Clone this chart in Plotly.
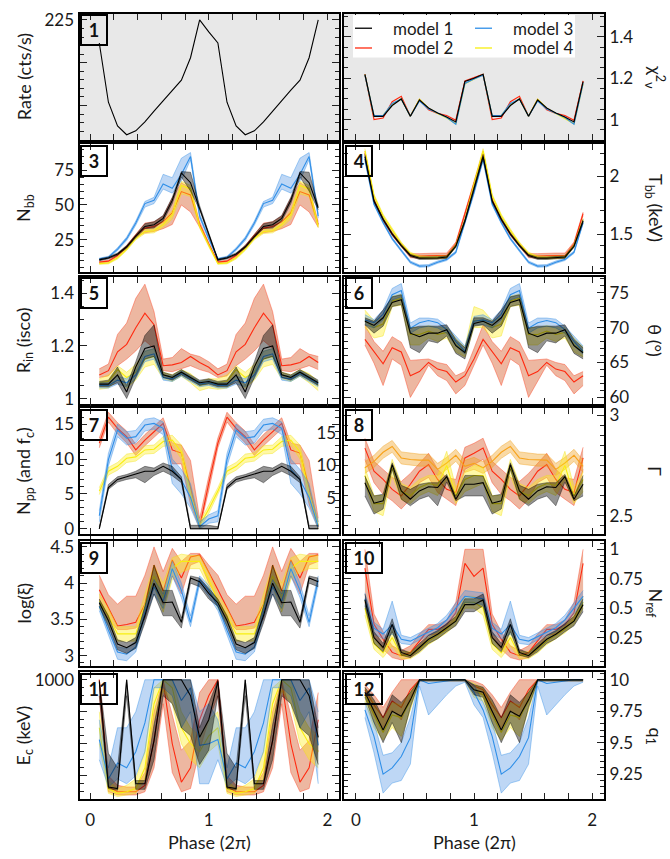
import numpy as np
import plotly.graph_objects as go

# ---------------------------------------------------------------------------
# Phase-resolved fit results: 13 phase bins per cycle, drawn over two cycles
# ---------------------------------------------------------------------------
N_BINS = 13
phase = np.arange(1, 2 * N_BINS) / N_BINS

# 1: count rate
rate_m1 = [211.5, 176.9, 163.1, 157.9, 160.2, 165.4, 171.7, 177.9, 184.0, 189.8, 202.9, 225.0, 218.0]

# 2: reduced chi^2
chi2_m1 = [1.219, 1.016, 1.016, 1.068, 1.100, 1.016, 1.095, 1.056, 1.032, 1.013, 0.989, 1.184, 1.200]
chi2_m2 = [1.219, 1.000, 1.008, 1.087, 1.113, 1.016, 1.097, 1.048, 1.030, 1.020, 0.997, 1.187, 1.203]
chi2_m3 = [1.215, 1.020, 1.020, 1.078, 1.100, 1.016, 1.090, 1.051, 1.032, 1.010, 0.978, 1.175, 1.197]
chi2_m4 = [1.217, 1.018, 1.020, 1.075, 1.100, 1.016, 1.098, 1.055, 1.030, 1.008, 0.980, 1.173, 1.195]

# 3: blackbody normalisation
nbb_m1 = [10.6, 12.0, 14.8, 20.0, 27.6, 34.6, 35.8, 40.4, 53.3, 73.0, 66.0, 48.0, 29.0]
nbb_m1_lo = [10.0, 11.3, 14.0, 19.0, 26.5, 33.0, 33.5, 38.5, 51.0, 70.0, 60.0, 46.5, 28.0]
nbb_m1_hi = [11.2, 12.7, 15.6, 21.0, 28.7, 36.5, 38.0, 42.5, 55.5, 74.0, 73.5, 49.5, 30.0]
nbb_m2 = [9.0, 9.7, 13.7, 20.0, 28.0, 33.4, 34.6, 38.0, 44.4, 59.6, 57.2, 36.0, 22.0]
nbb_m2_lo = [8.5, 9.0, 12.8, 19.0, 27.0, 30.0, 31.0, 33.0, 36.0, 50.0, 45.0, 34.0, 21.0]
nbb_m2_hi = [9.5, 10.4, 14.6, 21.0, 29.0, 37.0, 38.0, 42.0, 55.0, 66.0, 62.0, 38.0, 23.0]
nbb_m3 = [11.3, 12.5, 18.3, 25.8, 37.0, 51.0, 53.3, 65.0, 62.0, 72.0, 84.8, 42.0, 26.0]
nbb_m3_lo = [10.8, 11.8, 17.3, 24.5, 35.5, 48.5, 51.0, 61.4, 58.5, 67.3, 82.5, 40.5, 25.0]
nbb_m3_hi = [11.8, 13.2, 19.3, 27.0, 38.5, 52.5, 55.5, 72.0, 69.6, 83.6, 87.6, 43.5, 27.0]
nbb_m4 = [7.9, 8.3, 12.0, 18.3, 26.0, 31.0, 31.5, 36.0, 43.0, 64.0, 61.5, 34.6, 21.0]
nbb_m4_lo = [7.4, 7.7, 11.2, 17.3, 25.0, 29.5, 30.0, 34.0, 40.0, 58.0, 56.0, 33.5, 20.0]
nbb_m4_hi = [8.4, 8.9, 12.8, 19.3, 27.0, 32.5, 33.0, 38.0, 46.0, 67.0, 64.0, 35.7, 22.0]

# 4: blackbody temperature (keV)
tbb_m1 = [2.17, 1.786, 1.628, 1.50, 1.40, 1.314, 1.29, 1.29, 1.292, 1.30, 1.394, 1.614, 1.885]
tbb_m1_lo = [2.15, 1.775, 1.617, 1.49, 1.39, 1.304, 1.28, 1.28, 1.282, 1.29, 1.384, 1.60, 1.87]
tbb_m1_hi = [2.19, 1.797, 1.639, 1.51, 1.41, 1.324, 1.30, 1.30, 1.302, 1.31, 1.404, 1.628, 1.90]
tbb_m2 = [2.20, 1.795, 1.623, 1.50, 1.405, 1.314, 1.31, 1.314, 1.314, 1.314, 1.415, 1.677, 1.93]
tbb_m2_lo = [2.18, 1.78, 1.61, 1.485, 1.39, 1.295, 1.29, 1.29, 1.29, 1.29, 1.40, 1.66, 1.91]
tbb_m2_hi = [2.22, 1.81, 1.636, 1.515, 1.42, 1.33, 1.33, 1.335, 1.335, 1.335, 1.43, 1.69, 1.95]
tbb_m3 = [2.15, 1.76, 1.60, 1.46, 1.357, 1.256, 1.222, 1.225, 1.256, 1.28, 1.342, 1.60, 1.86]
tbb_m3_lo = [2.13, 1.75, 1.59, 1.45, 1.347, 1.246, 1.212, 1.215, 1.246, 1.27, 1.332, 1.59, 1.845]
tbb_m3_hi = [2.17, 1.77, 1.61, 1.47, 1.367, 1.266, 1.232, 1.235, 1.266, 1.29, 1.352, 1.61, 1.875]
tbb_m4 = [2.22, 1.83, 1.656, 1.53, 1.415, 1.33, 1.30, 1.295, 1.295, 1.30, 1.40, 1.62, 1.93]
tbb_m4_lo = [2.20, 1.815, 1.64, 1.515, 1.40, 1.318, 1.288, 1.283, 1.283, 1.288, 1.388, 1.605, 1.91]
tbb_m4_hi = [2.24, 1.845, 1.672, 1.545, 1.43, 1.342, 1.312, 1.307, 1.307, 1.312, 1.412, 1.635, 1.95]

# 5: inner disc radius (isco)
rin_m1 = [1.055, 1.055, 1.09, 1.025, 1.12, 1.19, 1.20, 1.09, 1.08, 1.10, 1.08, 1.06, 1.065]
rin_m1_lo = [1.045, 1.045, 1.06, 1.00, 1.08, 1.15, 1.16, 1.08, 1.07, 1.09, 1.07, 1.05, 1.055]
rin_m1_hi = [1.065, 1.07, 1.12, 1.05, 1.14, 1.24, 1.28, 1.10, 1.09, 1.11, 1.09, 1.07, 1.075]
rin_m2 = [1.09, 1.106, 1.178, 1.206, 1.269, 1.325, 1.281, 1.125, 1.128, 1.137, 1.16, 1.137, 1.119]
rin_m2_lo = [1.08, 1.086, 1.125, 1.15, 1.181, 1.22, 1.19, 1.106, 1.102, 1.113, 1.125, 1.11, 1.10]
rin_m2_hi = [1.113, 1.131, 1.244, 1.287, 1.381, 1.435, 1.331, 1.15, 1.156, 1.19, 1.169, 1.16, 1.14]
rin_m3 = [1.05, 1.05, 1.07, 1.06, 1.09, 1.16, 1.17, 1.08, 1.075, 1.095, 1.075, 1.055, 1.06]
rin_m3_lo = [1.04, 1.04, 1.055, 1.045, 1.075, 1.14, 1.15, 1.07, 1.065, 1.085, 1.065, 1.045, 1.05]
rin_m3_hi = [1.06, 1.06, 1.085, 1.075, 1.105, 1.18, 1.19, 1.09, 1.085, 1.105, 1.085, 1.065, 1.07]
rin_m4 = [1.06, 1.065, 1.11, 1.08, 1.10, 1.15, 1.16, 1.09, 1.08, 1.10, 1.08, 1.05, 1.06]
rin_m4_lo = [1.035, 1.04, 1.07, 1.04, 1.07, 1.12, 1.13, 1.075, 1.065, 1.085, 1.06, 1.03, 1.04]
rin_m4_hi = [1.075, 1.09, 1.125, 1.10, 1.13, 1.18, 1.19, 1.10, 1.09, 1.11, 1.095, 1.065, 1.075]

# 6: inclination (deg)
theta_m1 = [70.9, 70.3, 71.4, 73.6, 74.0, 69.2, 68.7, 69.2, 69.2, 69.7, 67.4, 66.4, 70.6]
theta_m1_lo = [70.4, 69.2, 70.2, 73.0, 73.3, 67.1, 66.4, 68.1, 67.8, 68.8, 66.3, 65.5, 70.2]
theta_m1_hi = [71.4, 70.9, 72.5, 74.4, 74.7, 69.9, 70.2, 70.2, 70.2, 70.4, 68.3, 67.1, 71.4]
theta_m2 = [68.3, 66.6, 64.8, 67.1, 66.5, 63.1, 63.7, 65.0, 64.05, 63.7, 62.2, 63.1, 65.5]
theta_m2_lo = [67.5, 64.9, 61.7, 65.5, 64.6, 60.0, 62.2, 64.6, 63.1, 62.4, 60.5, 61.7, 64.6]
theta_m2_hi = [70.4, 68.0, 66.6, 68.7, 67.9, 65.3, 65.4, 65.5, 65.0, 64.7, 63.1, 63.7, 67.0]
theta_m3 = [71.1, 70.7, 71.9, 74.7, 75.3, 69.9, 70.7, 71.0, 70.7, 69.7, 68.0, 66.6, 70.9]
theta_m3_lo = [70.4, 69.95, 71.13, 73.96, 74.4, 69.2, 69.95, 70.2, 69.95, 69.2, 67.35, 66.2, 70.4]
theta_m3_hi = [71.84, 71.13, 72.55, 75.6, 76.3, 70.65, 71.36, 71.36, 71.2, 70.2, 68.8, 67.35, 71.6]
theta_m4 = [71.0, 70.0, 70.5, 73.8, 74.2, 69.0, 69.0, 69.5, 69.0, 69.3, 67.6, 66.5, 71.0]
theta_m4_lo = [70.0, 68.5, 68.8, 73.0, 73.2, 67.5, 67.5, 68.5, 68.0, 68.5, 66.5, 65.8, 70.0]
theta_m4_hi = [72.5, 71.0, 71.5, 74.5, 74.8, 70.0, 70.0, 70.3, 70.0, 70.0, 68.5, 67.2, 73.0]

# 7: power-law normalisation (and covering fraction)
npp_m1 = [0.0, 5.9, 7.07, 7.45, 7.8, 8.25, 8.25, 8.95, 8.25, 7.07, 0.0, 0.0, 0.0]
npp_m1_lo = [0.0, 5.65, 6.69, 7.07, 7.31, 6.6, 7.64, 8.25, 7.6, 6.6, 0.0, 0.0, 0.0]
npp_m1_hi = [0.3, 6.36, 7.45, 7.78, 8.25, 8.95, 8.7, 9.43, 8.95, 7.45, 0.5, 0.5, 0.5]
npp_m2 = [12.27, 16.0, 14.4, 13.2, 11.3, 12.7, 13.9, 15.1, 11.3, 10.85, 5.9, 0.3, 6.5]
npp_m2_lo = [11.6, 15.3, 13.6, 12.3, 10.5, 11.9, 13.1, 14.3, 9.3, 9.3, 3.5, 0.0, 5.5]
npp_m2_hi = [13.0, 16.7, 15.2, 14.0, 12.1, 13.5, 14.7, 15.9, 12.3, 12.0, 9.8, 1.5, 7.5]
npp_m3 = [1.87, 9.9, 14.15, 12.97, 13.2, 14.86, 15.1, 14.4, 8.5, 7.0, 4.5, 0.3, 1.4]
npp_m3_lo = [1.0, 9.0, 13.2, 12.0, 12.3, 14.0, 14.3, 13.5, 6.5, 5.0, 3.0, 0.0, 0.8]
npp_m3_hi = [2.6, 10.8, 15.0, 13.9, 14.1, 15.7, 15.9, 15.3, 10.0, 8.5, 6.5, 1.0, 2.0]
npp_m4 = [5.4, 8.25, 8.95, 10.1, 10.3, 11.3, 11.4, 12.5, 12.7, 11.0, 5.0, 0.5, 2.8]
npp_m4_lo = [4.9, 7.7, 8.4, 9.5, 9.7, 10.7, 10.8, 11.8, 12.0, 10.0, 4.0, 0.0, 2.2]
npp_m4_hi = [5.9, 8.8, 9.5, 10.7, 10.9, 11.9, 12.0, 13.2, 13.4, 12.0, 6.0, 1.0, 3.4]

# 8: photon index
gamma_m1 = [2.664, 2.562, 2.574, 2.754, 2.623, 2.582, 2.623, 2.644, 2.64, 2.694, 2.582, 2.656, 2.656]
gamma_m1_lo = [2.598, 2.508, 2.533, 2.73, 2.582, 2.549, 2.582, 2.598, 2.549, 2.667, 2.574, 2.598, 2.598]
gamma_m1_hi = [2.697, 2.598, 2.607, 2.763, 2.651, 2.631, 2.656, 2.664, 2.664, 2.705, 2.598, 2.70, 2.70]
gamma_m2 = [2.836, 2.721, 2.68, 2.631, 2.598, 2.656, 2.721, 2.754, 2.68, 2.631, 2.615, 2.787, 2.81]
gamma_m2_lo = [2.779, 2.664, 2.606, 2.574, 2.533, 2.582, 2.664, 2.69, 2.615, 2.582, 2.55, 2.73, 2.754]
gamma_m2_hi = [2.885, 2.77, 2.73, 2.69, 2.67, 2.71, 2.76, 2.81, 2.73, 2.69, 2.68, 2.84, 2.86]
gamma_m4 = [2.70, 2.56, 2.56, 2.74, 2.62, 2.60, 2.64, 2.66, 2.65, 2.75, 2.60, 2.68, 2.70]
gamma_m4_lo = [2.66, 2.52, 2.50, 2.70, 2.58, 2.56, 2.60, 2.62, 2.60, 2.68, 2.56, 2.62, 2.64]
gamma_m4_hi = [2.74, 2.60, 2.60, 2.78, 2.66, 2.64, 2.68, 2.70, 2.70, 2.82, 2.64, 2.72, 2.75]
gamma2_m4 = [2.738, 2.77, 2.815, 2.844, 2.787, 2.779, 2.776, 2.776, 2.73, 2.762, 2.80, 2.745, 2.76]
gamma2_m4_lo = [2.71, 2.74, 2.785, 2.815, 2.757, 2.75, 2.746, 2.746, 2.70, 2.73, 2.77, 2.715, 2.73]
gamma2_m4_hi = [2.768, 2.80, 2.845, 2.874, 2.817, 2.81, 2.806, 2.806, 2.76, 2.79, 2.83, 2.775, 2.79]

# 9: ionisation parameter
logxi_m1 = [3.73, 3.48, 3.16, 3.11, 3.18, 3.55, 4.00, 3.73, 3.74, 3.46, 4.07, 4.02, 3.86]
logxi_m1_lo = [3.68, 3.40, 3.08, 3.03, 3.10, 3.45, 3.85, 3.55, 3.55, 3.38, 4.00, 3.95, 3.78]
logxi_m1_hi = [3.78, 3.55, 3.22, 3.18, 3.25, 3.68, 4.25, 3.90, 3.90, 3.52, 4.10, 4.07, 3.93]
logxi_m2 = [3.91, 3.66, 3.41, 3.43, 3.46, 3.71, 4.25, 3.89, 4.32, 4.07, 4.36, 4.39, 4.16]
logxi_m2_lo = [3.78, 3.50, 3.36, 3.36, 3.38, 3.50, 3.95, 3.70, 4.10, 3.85, 4.25, 4.30, 4.00]
logxi_m2_hi = [4.11, 3.84, 3.71, 3.82, 3.82, 4.11, 4.50, 4.16, 4.48, 4.30, 4.41, 4.41, 4.25]
logxi_m3 = [3.68, 3.35, 3.05, 3.02, 3.12, 3.60, 3.95, 3.75, 4.20, 3.90, 3.46, 4.05, 3.90]
logxi_m3_lo = [3.62, 3.28, 2.95, 2.93, 3.05, 3.52, 3.85, 3.65, 4.10, 3.80, 3.40, 3.98, 3.82]
logxi_m3_hi = [3.74, 3.42, 3.12, 3.10, 3.20, 3.68, 4.05, 3.85, 4.30, 4.00, 3.55, 4.10, 3.97]
logxi_m4 = [3.75, 3.55, 3.30, 3.30, 3.30, 3.70, 4.10, 3.80, 4.20, 4.30, 4.30, 4.30, 4.05]
logxi_m4_lo = [3.65, 3.45, 3.20, 3.20, 3.20, 3.55, 3.95, 3.60, 4.05, 4.15, 4.20, 4.20, 3.95]
logxi_m4_hi = [3.85, 3.65, 3.40, 3.40, 3.40, 3.85, 4.25, 4.00, 4.35, 4.40, 4.38, 4.38, 4.15]

# 10: reflection normalisation
nref_m1 = [0.57, 0.25, 0.166, 0.362, 0.124, 0.096, 0.166, 0.236, 0.278, 0.334, 0.39, 0.53, 0.53]
nref_m1_lo = [0.52, 0.20, 0.13, 0.30, 0.10, 0.08, 0.13, 0.20, 0.24, 0.30, 0.35, 0.47, 0.47]
nref_m1_hi = [0.62, 0.30, 0.20, 0.41, 0.15, 0.12, 0.20, 0.27, 0.31, 0.37, 0.43, 0.58, 0.58]
nref_m2 = [0.84, 0.362, 0.236, 0.124, 0.096, 0.124, 0.22, 0.32, 0.32, 0.36, 0.46, 0.88, 0.77]
nref_m2_lo = [0.55, 0.25, 0.15, 0.08, 0.06, 0.08, 0.15, 0.27, 0.28, 0.32, 0.40, 0.60, 0.60]
nref_m2_hi = [1.00, 0.45, 0.30, 0.18, 0.14, 0.18, 0.28, 0.36, 0.36, 0.40, 0.55, 1.00, 1.00]
nref_m3 = [0.58, 0.33, 0.28, 0.36, 0.236, 0.22, 0.26, 0.30, 0.334, 0.40, 0.50, 0.60, 0.59]
nref_m3_lo = [0.53, 0.28, 0.24, 0.28, 0.20, 0.19, 0.23, 0.27, 0.30, 0.36, 0.45, 0.55, 0.54]
nref_m3_hi = [0.63, 0.38, 0.32, 0.56, 0.27, 0.25, 0.29, 0.33, 0.37, 0.44, 0.55, 0.65, 0.64]
nref_m4 = [0.50, 0.20, 0.12, 0.25, 0.10, 0.10, 0.15, 0.22, 0.27, 0.32, 0.40, 0.55, 0.55]
nref_m4_lo = [0.44, 0.15, 0.08, 0.18, 0.07, 0.07, 0.12, 0.19, 0.24, 0.29, 0.36, 0.50, 0.50]
nref_m4_hi = [0.56, 0.25, 0.16, 0.32, 0.13, 0.13, 0.18, 0.25, 0.30, 0.35, 0.44, 0.60, 0.60]

# 11: cutoff energy (keV)
ec_m1 = [990, 330, 320, 1000, 350, 350, 620, 1000, 1000, 1000, 900, 640, 750]
ec_m1_lo = [900, 320, 310, 900, 315, 315, 500, 900, 850, 700, 650, 470, 560]
ec_m1_hi = [1000, 540, 450, 1000, 370, 370, 720, 1000, 1000, 1000, 1000, 700, 850]
ec_m2 = [1000, 330, 300, 300, 300, 340, 620, 990, 600, 360, 450, 750, 900]
ec_m2_lo = [900, 300, 280, 280, 280, 300, 450, 850, 420, 300, 320, 560, 750]
ec_m2_hi = [1000, 400, 340, 330, 330, 420, 800, 1000, 780, 560, 620, 920, 1000]
ec_m3 = [626, 380, 480, 450, 550, 730, 1000, 1000, 1000, 870, 950, 590, 600]
ec_m3_lo = [500, 330, 380, 350, 400, 550, 950, 950, 900, 700, 800, 350, 350]
ec_m3_hi = [750, 450, 700, 700, 800, 1000, 1000, 1000, 1000, 1000, 1000, 800, 850]
ec_m4 = [700, 320, 290, 300, 320, 450, 850, 1000, 950, 700, 600, 550, 650]
ec_m4_lo = [600, 290, 270, 280, 290, 380, 750, 930, 850, 600, 500, 450, 550]
ec_m4_hi = [800, 370, 320, 340, 380, 550, 950, 1000, 1000, 800, 700, 650, 750]

# 12: emissivity index
q1_m1 = [9.90, 9.75, 9.60, 9.75, 9.71, 9.84, 10.0, 10.0, 10.0, 10.0, 10.0, 10.0, 9.92]
q1_m1_lo = [9.86, 9.66, 9.50, 9.66, 9.50, 9.78, 9.99, 9.99, 9.99, 9.99, 9.99, 9.99, 9.88]
q1_m1_hi = [9.94, 9.84, 9.70, 9.88, 9.82, 9.90, 10.0, 10.0, 10.0, 10.0, 10.0, 10.0, 9.96]
q1_m2 = [9.92, 9.80, 9.70, 9.83, 9.78, 9.92, 10.0, 10.0, 10.0, 10.0, 10.0, 10.0, 9.95]
q1_m2_lo = [9.88, 9.72, 9.62, 9.76, 9.68, 9.86, 9.99, 9.99, 9.99, 9.99, 9.99, 9.99, 9.90]
q1_m2_hi = [9.96, 9.88, 9.78, 9.90, 10.0, 10.0, 10.0, 10.0, 10.0, 10.0, 10.0, 10.0, 9.99]
q1_m3 = [9.76, 9.55, 9.25, 9.30, 9.39, 9.54, 10.0, 9.97, 9.98, 9.99, 10.0, 10.0, 9.90]
q1_m3_lo = [9.70, 9.42, 9.10, 9.18, 9.20, 9.33, 9.95, 9.72, 9.80, 9.88, 9.95, 9.98, 9.80]
q1_m3_hi = [9.82, 9.66, 9.40, 9.42, 9.50, 9.70, 10.0, 10.0, 10.0, 10.0, 10.0, 10.0, 9.96]
q1_m4 = [9.88, 9.72, 9.58, 9.72, 9.70, 9.83, 10.0, 10.0, 10.0, 10.0, 10.0, 10.0, 9.92]
q1_m4_lo = [9.83, 9.62, 9.52, 9.62, 9.55, 9.76, 9.99, 9.99, 9.99, 9.99, 9.99, 9.99, 9.86]
q1_m4_hi = [9.93, 9.82, 9.68, 9.82, 9.80, 9.90, 10.0, 10.0, 10.0, 10.0, 10.0, 10.0, 9.97]

model_names = ["model 1", "model 2", "model 3", "model 4"]

# ---------------------------------------------------------------------------
# Styling
# ---------------------------------------------------------------------------
FONT = "Lato"
TXT = "#1a1a1a"
LINE = {1: "#000000", 2: "#ff2a10", 3: "#2f8fe8", 4: "#f8ee10", "o": "#f7a21b"}
FILL = {1: "rgba(0,0,0,0.42)", 2: "rgba(214,96,46,0.45)", 3: "rgba(70,140,225,0.35)",
        4: "rgba(255,236,20,0.38)", "o": "rgba(240,160,30,0.40)"}
EDGE = {1: "rgba(0,0,0,0.55)", 2: "rgba(255,60,30,0.6)", 3: "rgba(47,143,232,0.6)",
        4: "rgba(240,225,20,0.6)", "o": "rgba(240,160,30,0.6)"}

W, H = 670, 859
COLS = [(79.5, 339.2), (344.0, 604.0)]
ROWS = [(9, 137), (141, 270), (275, 403.5), (408, 535), (542.5, 668.5), (675, 803)]
XRANGE = [[-0.09, 2.1], [-0.10, 2.1]]


def two_cycles(v):
    v = list(v)
    return v + v[:N_BINS - 1]


def axn(kind, p):
    return kind if p == 1 else f"{kind}{p}"


fig = go.Figure()


def add_band(p, mid, lo, hi, key):
    xa, ya = axn("x", p), axn("y", p)
    fig.add_trace(go.Scatter(x=phase, y=two_cycles(lo), mode="lines", xaxis=xa, yaxis=ya,
                             line=dict(color=EDGE[key], width=0.7), showlegend=False,
                             hoverinfo="skip"))
    fig.add_trace(go.Scatter(x=phase, y=two_cycles(hi), mode="lines", xaxis=xa, yaxis=ya,
                             line=dict(color=EDGE[key], width=0.7), fill="tonexty",
                             fillcolor=FILL[key], showlegend=False, hoverinfo="skip"))
    fig.add_trace(go.Scatter(x=phase, y=two_cycles(mid), mode="lines", xaxis=xa, yaxis=ya,
                             line=dict(color=LINE[key], width=1.1), showlegend=False))


# panel 1: rate
fig.add_trace(go.Scatter(x=phase, y=two_cycles(rate_m1), mode="lines", xaxis="x", yaxis="y",
                         line=dict(color="black", width=1.1), showlegend=False))

# panel 2: chi^2
for key, vals in [(2, chi2_m2), (4, chi2_m4), (3, chi2_m3), (1, chi2_m1)]:
    fig.add_trace(go.Scatter(x=phase, y=two_cycles(vals), mode="lines", xaxis="x2", yaxis="y2",
                             line=dict(color=LINE[key], width=1.2), name=model_names[key - 1],
                             showlegend=False))

band_sets = {
    3: {1: (nbb_m1, nbb_m1_lo, nbb_m1_hi), 2: (nbb_m2, nbb_m2_lo, nbb_m2_hi),
        3: (nbb_m3, nbb_m3_lo, nbb_m3_hi), 4: (nbb_m4, nbb_m4_lo, nbb_m4_hi)},
    4: {1: (tbb_m1, tbb_m1_lo, tbb_m1_hi), 2: (tbb_m2, tbb_m2_lo, tbb_m2_hi),
        3: (tbb_m3, tbb_m3_lo, tbb_m3_hi), 4: (tbb_m4, tbb_m4_lo, tbb_m4_hi)},
    5: {1: (rin_m1, rin_m1_lo, rin_m1_hi), 2: (rin_m2, rin_m2_lo, rin_m2_hi),
        3: (rin_m3, rin_m3_lo, rin_m3_hi), 4: (rin_m4, rin_m4_lo, rin_m4_hi)},
    6: {1: (theta_m1, theta_m1_lo, theta_m1_hi), 2: (theta_m2, theta_m2_lo, theta_m2_hi),
        3: (theta_m3, theta_m3_lo, theta_m3_hi), 4: (theta_m4, theta_m4_lo, theta_m4_hi)},
    7: {1: (npp_m1, npp_m1_lo, npp_m1_hi), 2: (npp_m2, npp_m2_lo, npp_m2_hi),
        3: (npp_m3, npp_m3_lo, npp_m3_hi), 4: (npp_m4, npp_m4_lo, npp_m4_hi)},
    8: {1: (gamma_m1, gamma_m1_lo, gamma_m1_hi), 2: (gamma_m2, gamma_m2_lo, gamma_m2_hi),
        4: (gamma_m4, gamma_m4_lo, gamma_m4_hi), "o": (gamma2_m4, gamma2_m4_lo, gamma2_m4_hi)},
    9: {1: (logxi_m1, logxi_m1_lo, logxi_m1_hi), 2: (logxi_m2, logxi_m2_lo, logxi_m2_hi),
        3: (logxi_m3, logxi_m3_lo, logxi_m3_hi), 4: (logxi_m4, logxi_m4_lo, logxi_m4_hi)},
    10: {1: (nref_m1, nref_m1_lo, nref_m1_hi), 2: (nref_m2, nref_m2_lo, nref_m2_hi),
         3: (nref_m3, nref_m3_lo, nref_m3_hi), 4: (nref_m4, nref_m4_lo, nref_m4_hi)},
    11: {1: (ec_m1, ec_m1_lo, ec_m1_hi), 2: (ec_m2, ec_m2_lo, ec_m2_hi),
         3: (ec_m3, ec_m3_lo, ec_m3_hi), 4: (ec_m4, ec_m4_lo, ec_m4_hi)},
    12: {1: (q1_m1, q1_m1_lo, q1_m1_hi), 2: (q1_m2, q1_m2_lo, q1_m2_hi),
         3: (q1_m3, q1_m3_lo, q1_m3_hi), 4: (q1_m4, q1_m4_lo, q1_m4_hi)},
}
DRAW_ORDER = [2, "o", 4, 3, 1]
for p, sets in band_sets.items():
    for key in DRAW_ORDER:
        if key in sets:
            mid, lo, hi = sets[key]
            add_band(p, mid, lo, hi, key)

# ---------------------------------------------------------------------------
# Axes
# ---------------------------------------------------------------------------
YAX = {
    1: dict(range=[154.6, 228.5], tickvals=[175, 200, 225], ticktext=["", "", "225"], minor=5),
    2: dict(range=[0.8996, 1.511], tickvals=[1, 1.2, 1.4], ticktext=["1", "1.2", "1.4"], minor=0.05),
    3: dict(range=[2.0, 93.5], tickvals=[25, 50, 75], ticktext=["25", "50", "75"], minor=5),
    4: dict(range=[1.172, 2.277], tickvals=[1.5, 2], ticktext=["1.5", "2"], minor=0.1),
    5: dict(range=[0.98, 1.463], tickvals=[1, 1.2, 1.4], ticktext=["1", "1.2", "1.4"], minor=0.05),
    6: dict(range=[59.08, 77.27], tickvals=[60, 65, 70, 75], ticktext=["60", "65", "70", "75"], minor=1),
    7: dict(range=[-0.71, 17.27], tickvals=[0, 5, 10, 15], ticktext=["0", "5", "10", "15"], minor=1),
    8: dict(range=[2.41, 3.034], tickvals=[2.5, 3], ticktext=["2.5", "3"], minor=0.05),
    9: dict(range=[2.861, 4.579], tickvals=[3, 3.5, 4, 4.5], ticktext=["3", "3.5", "4", "4.5"], minor=0.1),
    10: dict(range=[0.011, 1.069], tickvals=[0.25, 0.5, 0.75, 1], ticktext=["0.25", "0.5", "0.75", "1"], minor=0.05),
    11: dict(range=[257, 1047.5], tickvals=[400, 600, 800, 1000], ticktext=["", "", "", "1000"], minor=50),
    12: dict(range=[9.056, 10.06], tickvals=[9.25, 9.5, 9.75, 10], ticktext=["9.25", "9.5", "9.75", "10"], minor=0.05),
}
YTITLES = {
    1: "Rate (cts/s)", 2: "χ<sup>2</sup><sub>ν</sub>", 3: "N<sub>bb</sub>", 4: "T<sub>bb</sub> (keV)",
    5: "R<sub>in</sub> (isco)", 6: "θ (°)", 7: "N<sub>pp</sub> (and f<sub>c</sub>)", 8: "Γ",
    9: "log(ξ)", 10: "N<sub>ref</sub>", 11: "E<sub>c</sub> (keV)", 12: "q<sub>1</sub>",
}

xticks = [round(0.2 * i, 1) for i in range(11)]
xtext = [str(int(v)) if abs(v - round(v)) < 1e-9 else "" for v in xticks]
tickfont = dict(family=FONT, size=17, color=TXT)

layout = dict(
    width=W, height=H, margin=dict(l=0, r=0, t=0, b=0),
    paper_bgcolor="white", plot_bgcolor="white", showlegend=False,
    font=dict(family=FONT, size=17, color=TXT),
)
shapes, annotations = [], []

for p in range(1, 13):
    r, c = (p - 1) // 2, (p - 1) % 2
    x0, x1 = COLS[c]
    y0, y1 = ROWS[r]
    xd = [x0 / W, x1 / W]
    yd = [1 - y1 / H, 1 - y0 / H]
    bottom = r == 5
    layout[f"xaxis{'' if p == 1 else p}"] = dict(
        domain=xd, range=XRANGE[c], anchor=axn("y", p), showgrid=False, zeroline=False,
        showline=True, linecolor="black", linewidth=2, mirror="allticks",
        ticks="inside", ticklen=6, tickwidth=1.2, tickcolor="#222",
        tickvals=xticks, ticktext=xtext, showticklabels=bottom, tickfont=tickfont,
        ticklabelstandoff=5,
    )
    ya = YAX[p]
    layout[f"yaxis{'' if p == 1 else p}"] = dict(
        domain=yd, range=ya["range"], anchor=axn("x", p), side="left" if c == 0 else "right",
        showgrid=False, zeroline=False, showline=True, linecolor="black", linewidth=2,
        mirror="allticks", ticks="inside", ticklen=7, tickwidth=1.2, tickcolor="#222",
        tickvals=ya["tickvals"], ticktext=ya["ticktext"], tickfont=tickfont,
        minor=dict(ticks="inside", ticklen=4, tickwidth=1, tickcolor="#222", dtick=ya["minor"],
                   tick0=0, showgrid=False),
    )
    # shaded background for the two top panels
    if p in (1, 2):
        shapes.append(dict(type="rect", xref=f"{axn('x', p)} domain", yref=f"{axn('y', p)} domain",
                           x0=0, x1=1, y0=0, y1=1, fillcolor="#e8e8e8", line=dict(width=0),
                           layer="below"))
    # panel number box
    if p != 2:
        annotations.append(dict(
            text=f"<b>{p}</b>", xref="paper", yref="paper", x=(x0 + 0.5) / W, y=1 - (y0 + 0.5) / H,
            xanchor="left", yanchor="top", showarrow=False,
            font=dict(family=FONT, size=18, color="#111"),
            bordercolor="black", borderwidth=2, borderpad=0,
            width=24 if p < 10 else 34, height=28, bgcolor="rgba(0,0,0,0)"))
    # axis title
    yc = 1 - (y0 + y1) / 2 / H
    annotations.append(dict(text=YTITLES[p], xref="paper", yref="paper",
                            x=(24 if c == 0 else 655) / W, y=yc,
                            textangle=-90 if c == 0 else 90, showarrow=False,
                            xanchor="center", yanchor="middle",
                            font=dict(family=FONT, size=18, color=TXT)))

# legend box inside panel 2
LEG_X0, LEG_X1, LEG_Y0, LEG_Y1 = 353, 575, 10, 53
shapes.append(dict(type="rect", xref="paper", yref="paper", x0=LEG_X0 / W, x1=LEG_X1 / W,
                   y0=1 - LEG_Y1 / H, y1=1 - LEG_Y0 / H, fillcolor="white", line=dict(width=0)))
leg_slots = {1: (355, 23.5), 2: (355, 43.5), 3: (475, 23.5), 4: (475, 43.5)}
for key, (lx, ly) in leg_slots.items():
    shapes.append(dict(type="line", xref="paper", yref="paper", x0=lx / W, x1=(lx + 17) / W,
                       y0=1 - ly / H, y1=1 - ly / H, line=dict(color=LINE[key], width=1.3)))
    annotations.append(dict(text=model_names[key - 1], xref="paper", yref="paper",
                            x=(lx + 36) / W, y=1 - ly / H, xanchor="left", yanchor="middle",
                            showarrow=False, font=dict(family=FONT, size=17, color=TXT)))

# secondary scale inside panel 7 (covering fraction)
r7 = ROWS[3]
layout["yaxis13"] = dict(
    domain=[1 - r7[1] / H, 1 - r7[0] / H], range=[-0.42, 18.72], overlaying="y7", side="right",
    anchor="x7", showgrid=False, zeroline=False, showline=False, ticks="",
    tickvals=[5, 10, 15], ticktext=["5", "10", "15"], ticklabelposition="inside",
    tickfont=tickfont,
)
fig.add_trace(go.Scatter(x=[None], y=[None], xaxis="x7", yaxis="y13", showlegend=False,
                         hoverinfo="skip"))

# x-axis titles
for c in range(2):
    xc = (COLS[c][0] + COLS[c][1]) / 2 / W
    annotations.append(dict(text="Phase (2π)", xref="paper", yref="paper", x=xc, y=1 - 847 / H,
                            showarrow=False, xanchor="center", yanchor="middle",
                            font=dict(family=FONT, size=18, color=TXT)))

layout["shapes"] = shapes
layout["annotations"] = annotations
fig.update_layout(**layout)
fig.write_html("out.html")
